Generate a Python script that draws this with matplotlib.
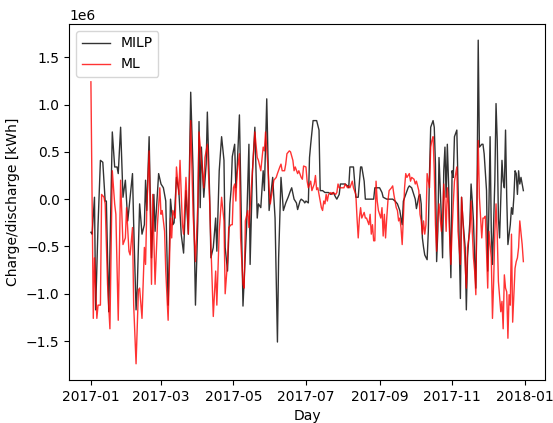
import numpy as np
import pandas as pd
import matplotlib
matplotlib.use('Agg')
from matplotlib import pyplot as plt
import matplotlib.dates as mdates

start = pd.Timestamp('2017-01-01')

# MILP schedule, day-of-year offset and value in 1e6 kWh
milp_day = [0, 1, 3, 4, 6, 8, 10, 12, 13, 15, 18, 20, 22, 23, 25, 27, 29, 31, 35, 36,
            38, 39, 41, 43, 45, 46, 47, 49, 51, 53, 54, 57, 59, 61, 63, 65, 67, 69, 70, 72,
            74, 76, 78, 80, 82, 84, 86, 88, 90, 91, 92, 93, 95, 97, 98, 100, 101, 103, 105, 106,
            108, 110, 112, 113, 115, 117, 118, 119, 121, 122, 123, 125, 126, 128, 130, 131, 133, 134, 136, 138,
            140, 141, 143, 145, 146, 148, 150, 152, 153, 155, 157, 158, 160, 162, 164, 166, 168, 169, 171, 173,
            174, 176, 177, 179, 180, 181, 183, 184, 185, 187, 190, 192, 193, 195, 197, 198, 200, 202, 204, 206,
            207, 209, 210, 212, 214, 216, 217, 218, 221, 223, 224, 225, 227, 228, 230, 231, 232, 235, 238, 239,
            241, 243, 245, 246, 249, 251, 253, 254, 256, 258, 260, 261, 262, 263, 265, 267, 268, 270, 272, 273,
            274, 276, 277, 278, 279, 280, 281, 283, 284, 285, 286, 288, 289, 290, 291, 292, 293, 295, 296, 297,
            298, 299, 300, 301, 302, 303, 304, 305, 306, 308, 309, 310, 311, 312, 313, 315, 316, 317, 319, 320,
            321, 322, 323, 324, 325, 326, 327, 329, 330, 331, 333, 334, 335, 336, 337, 338, 340, 341, 342, 343,
            344, 345, 346, 347, 348, 349, 350, 351, 353, 354, 355, 356, 357, 358, 359, 360, 361, 362, 364]
milp_val = [-0.35, -0.37, 0.02, -1.17, -0.27, 0.41, 0.39, -0.02, -0.02, -1.19, 0.71, 0.34, 0.34, 0.27, 0.76, 0.02, 0.20, -0.23, 0.27, -0.27,
            -1.17, -0.94, -0.05, -0.37, -0.27, 0.20, -0.12, 0.66, -0.62, 0.05, -0.34, 0.27, 0.16, 0.12, -0.02, -1.12, 0.00, -0.27, -0.25, 0.23,
            0.09, -0.37, -0.57, 0.09, -0.37, 1.13, 0.30, -1.12, -0.23, 0.82, -0.09, 0.55, 0.02, 0.37, 0.92, 0.02, -0.62, -0.51, -0.20, -0.55,
            0.30, 0.66, 0.41, -0.51, -0.76, -0.05, 0.10, 0.45, 0.58, 0.12, 0.30, 0.89, 0.23, -1.13, -0.59, -0.30, 0.58, -0.69, 0.30, 0.76,
            -0.20, -0.05, -0.09, 0.30, 0.09, 1.06, -0.12, 0.12, 0.23, -0.20, -1.51, -0.62, 0.23, -0.12, -0.04, 0.02, 0.09, 0.12, 0.00, -0.04,
            -0.11, -0.02, 0.00, -0.02, -0.04, -0.02, -0.04, 0.44, 0.58, 0.83, 0.83, 0.73, 0.09, 0.09, 0.07, 0.07, 0.07, 0.05, 0.07, 0.02,
            0.00, 0.05, 0.16, 0.16, 0.16, 0.14, 0.12, 0.34, 0.34, 0.02, 0.02, 0.02, 0.34, 0.34, 0.19, 0.00, 0.00, 0.00, 0.00, 0.12,
            0.12, 0.12, 0.07, 0.02, 0.00, 0.00, 0.00, 0.00, -0.02, -0.05, -0.12, -0.20, -0.27, -0.02, 0.05, 0.12, 0.14, 0.12, 0.04, 0.00,
            -0.10, 0.03, 0.05, -0.05, -0.41, -0.51, -0.59, -0.64, -0.34, 0.27, 0.76, 0.83, 0.76, 0.37, -0.66, -0.34, 0.44, -0.20, -0.62, 0.30,
            0.55, 0.02, 0.58, 0.19, -0.34, -0.83, 0.30, 0.23, 0.66, 0.73, 0.12, -0.51, -1.05, 0.02, -0.20, -0.51, -1.17, -0.62, -0.23, 0.16,
            -0.02, -0.23, -0.62, -0.94, 0.02, 1.68, 0.55, 0.58, 0.58, 0.48, 0.09, -0.76, -0.09, 0.66, -0.34, -0.69, 0.20, 1.01, 0.62, -0.20,
            -0.41, 0.02, 0.41, 0.19, 0.12, 0.73, 0.02, -0.48, -0.27, -0.09, -0.16, 0.02, 0.30, 0.27, 0.05, 0.30, 0.16, 0.23, 0.09]

# ML prediction
ml_day = [0, 2, 3, 5, 6, 8, 9, 11, 12, 14, 16, 18, 20, 21, 23, 25, 27, 29, 30, 32,
          33, 35, 36, 38, 40, 41, 43, 45, 46, 47, 49, 51, 52, 54, 56, 58, 59, 60, 62, 63,
          65, 67, 68, 69, 71, 72, 74, 75, 77, 78, 80, 82, 84, 86, 88, 90, 91, 93, 95, 96,
          98, 100, 101, 103, 105, 106, 108, 110, 112, 113, 115, 116, 118, 119, 120, 121, 122, 123, 125, 126,
          128, 129, 130, 132, 133, 135, 136, 138, 140, 141, 143, 145, 146, 147, 149, 150, 151, 153, 154, 156,
          157, 159, 160, 161, 163, 164, 165, 167, 168, 170, 171, 172, 174, 175, 177, 178, 179, 181, 182, 183,
          185, 186, 188, 189, 190, 191, 192, 194, 195, 196, 197, 198, 199, 200, 202, 203, 204, 206, 207, 208,
          209, 211, 213, 214, 216, 217, 218, 220, 221, 223, 224, 225, 226, 227, 228, 230, 231, 232, 234, 235,
          236, 237, 238, 239, 240, 241, 242, 244, 245, 246, 247, 248, 249, 250, 251, 253, 254, 255, 256, 257,
          258, 259, 260, 261, 262, 263, 264, 265, 266, 268, 269, 270, 272, 273, 274, 276, 277, 278, 279, 280,
          281, 282, 283, 285, 286, 287, 288, 289, 290, 291, 292, 293, 295, 296, 297, 298, 299, 300, 301, 302,
          303, 304, 305, 306, 308, 309, 310, 311, 312, 313, 315, 316, 317, 319, 320, 321, 322, 323, 324, 325,
          326, 327, 329, 330, 331, 332, 333, 334, 335, 337, 338, 339, 340, 341, 342, 343, 345, 346, 347, 348,
          349, 350, 351, 352, 353, 354, 355, 356, 357, 358, 359, 360, 361, 363, 364]
ml_val = [1.24, -1.26, -0.62, -1.26, -1.12, -1.12, 0.05, 0.02, -0.05, -0.90, -1.37, 0.30, -0.05, -0.16, -1.28, 0.20, -0.48, -0.41, -0.09, -0.55,
          -0.59, -0.30, -1.12, -1.74, -0.96, -0.94, -1.26, -0.51, -0.69, -0.12, 0.51, -0.90, 0.05, -0.90, -0.27, 0.12, -0.16, -0.12, -0.34, -0.76,
          -1.28, -0.20, -0.41, -0.12, -0.20, 0.34, 0.05, 0.41, -0.27, -0.37, 0.23, -0.37, 0.83, -0.16, -0.66, -0.05, 0.71, 0.41, 0.12, 0.44,
          0.58, -0.05, -0.48, -1.24, -0.76, -1.12, -0.34, 0.02, -0.23, -1.00, -0.66, -0.30, -0.27, -0.27, 0.12, 0.16, -0.02, 0.27, 0.48, -0.41,
          -0.90, -0.94, -0.23, -0.12, -0.30, 0.12, 0.30, 0.71, 0.44, 0.41, 0.30, 0.55, 0.51, 0.71, 0.34, 0.12, -0.05, 0.12, 0.20, 0.23,
          0.27, 0.34, 0.37, 0.30, 0.30, 0.37, 0.48, 0.51, 0.50, 0.41, 0.30, 0.34, 0.27, 0.30, 0.23, 0.21, 0.35, 0.34, 0.19, 0.12,
          0.19, 0.09, 0.16, 0.25, 0.10, 0.12, 0.05, -0.09, -0.12, -0.02, -0.05, 0.05, -0.02, 0.05, 0.07, 0.05, 0.07, 0.05, 0.07, 0.16,
          0.12, 0.12, 0.12, 0.16, 0.12, 0.14, 0.12, 0.19, 0.12, 0.05, -0.20, -0.41, -0.20, -0.09, -0.20, -0.14, -0.20, -0.20, -0.27, -0.16,
          -0.37, -0.27, -0.44, -0.44, 0.19, -0.02, -0.12, -0.20, -0.09, -0.39, -0.16, -0.41, -0.20, -0.02, 0.09, 0.12, 0.14, 0.05, -0.02, -0.09,
          -0.12, -0.23, -0.20, -0.30, -0.48, -0.20, 0.12, 0.27, 0.23, 0.27, 0.19, 0.23, 0.21, 0.16, 0.19, 0.09, -0.16, -0.23, -0.37, -0.23,
          -0.37, -0.27, 0.27, 0.12, 0.55, 0.62, 0.66, 0.30, -0.27, -0.55, -0.20, -0.05, -0.34, -0.20, 0.16, -0.02, -0.34, 0.12, -0.05, -0.41,
          -0.69, -0.34, -0.05, 0.19, 0.34, -0.34, -0.51, -0.69, 0.02, -0.20, -0.69, -0.94, -0.51, -0.34, -0.02, -0.34, -0.62, -0.76, -1.01, 0.02,
          0.62, 0.02, -0.41, -0.20, -0.20, -0.18, -0.55, -0.94, -0.34, -0.62, -1.26, -0.87, -0.34, -0.05, -0.37, -0.87, -1.19, -1.08, -1.37, -0.80,
          -0.94, -0.98, -1.47, -1.01, -1.12, -0.37, -1.30, -1.01, -0.73, -0.66, -0.62, -0.51, -0.23, -0.48, -0.66]

milp_dates = start + pd.to_timedelta(milp_day, unit='D')
ml_dates = start + pd.to_timedelta(ml_day, unit='D')

fig = plt.figure(figsize=(5.53, 4.23), dpi=100)
ax = fig.add_axes([0.1253, 0.1017, 0.8602, 0.8416])
ax.plot(milp_dates, np.array(milp_val) * 1e6, color='black', linewidth=1.0, alpha=0.8, label='MILP')
ax.plot(ml_dates, np.array(ml_val) * 1e6, color='red', linewidth=1.0, alpha=0.8, label='ML')
ax.xaxis.set_major_locator(mdates.MonthLocator(bymonth=[1, 3, 5, 7, 9, 11]))
ax.xaxis.set_major_formatter(mdates.DateFormatter('%Y-%m'))
ax.set_xlabel('Day')
ax.set_ylabel('Charge/discharge [kWh]')
ax.legend(loc='upper left')
fig.savefig('out.png', dpi=100)
